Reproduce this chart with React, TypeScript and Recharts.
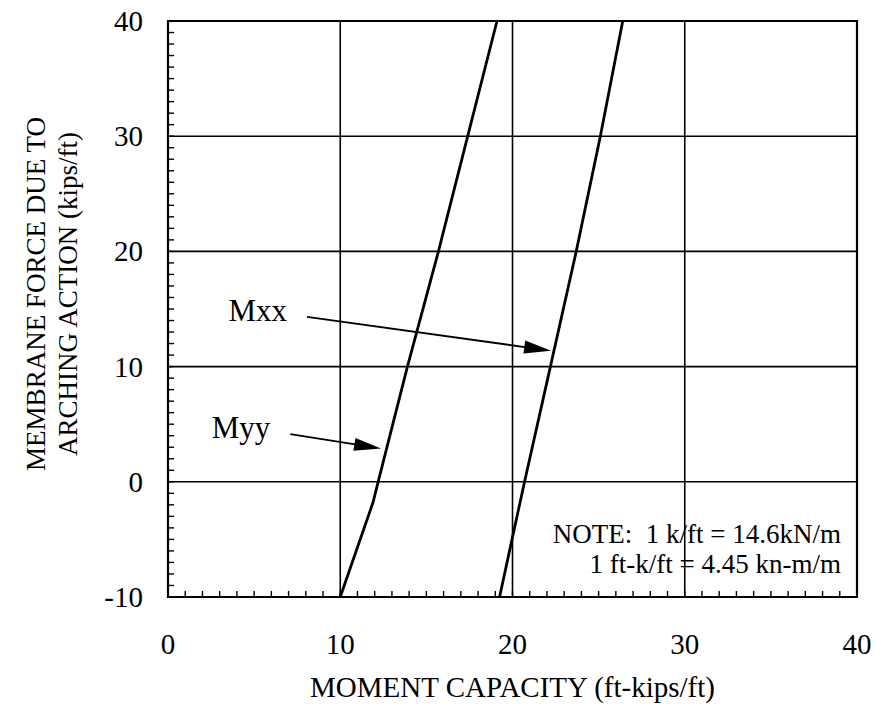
import { LineChart, Line, XAxis, YAxis, ReferenceLine, ReferenceArea } from "recharts";

// curves (moment capacity vs membrane force)
const myyMoment = [10.0, 11.9, 12.2, 13.9, 15.7, 17.4, 19.1];
const myyForce = [-10, -1.8, 0, 10, 20, 30, 40];
const mxxMoment = [19.25, 20.0, 20.7, 22.2, 23.7, 25.1, 26.4];
const mxxForce = [-10, -4.8, 0, 10, 20, 30, 40];

const xMajor = [0, 10, 20, 30, 40];
const yMajor = [-10, 0, 10, 20, 30, 40];
const xGrid = [10, 20, 30];
const yGrid = [0, 10, 20, 30];
const xMinor = Array.from({ length: 41 }, (_, i) => i);
const yMinor = Array.from({ length: 51 }, (_, i) => i - 10);

const arrowLabels = ["Mxx", "Myy"];
const arrowFrom = [
  { x: 8.07, y: 14.32 },
  { x: 7.1, y: 4.13 },
];
const arrowTo = [
  { x: 22.24, y: 11.38 },
  { x: 12.37, y: 2.89 },
];

const noteLines = ["NOTE:  1 k/ft = 14.6kN/m", "1 ft-k/ft = 4.45 kn-m/m"];

const xTitle = "MOMENT CAPACITY (ft-kips/ft)";
const yTitle = ["MEMBRANE FORCE DUE TO", "ARCHING ACTION (kips/ft)"];

const FONT = "'Liberation Serif', 'Times New Roman', serif";

const myyData = myyMoment.map((x, i) => ({ x, y: myyForce[i] }));
const mxxData = mxxMoment.map((x, i) => ({ x, y: mxxForce[i] }));

function XTick(props: any) {
  const { x, y, payload } = props;
  const major = xMajor.includes(payload.value);
  return (
    <g>
      <line x1={x} y1={y} x2={x} y2={y - 6} stroke="#000" strokeWidth={1.4} />
      {major && (
        <text x={x} y={y + 57} textAnchor="middle" fontFamily={FONT} fontSize={29} fill="#000">
          {payload.value}
        </text>
      )}
    </g>
  );
}

function YTick(props: any) {
  const { x, y, payload } = props;
  const major = yMajor.includes(payload.value);
  return (
    <g>
      <line x1={x} y1={y} x2={x + 6} y2={y} stroke="#000" strokeWidth={1.4} />
      {major && (
        <text x={x - 25} y={y + 10} textAnchor="end" fontFamily={FONT} fontSize={29} fill="#000">
          {payload.value}
        </text>
      )}
    </g>
  );
}

function Arrow(props: any) {
  const { x1, y1, x2, y2, text } = props;
  const dx = x2 - x1;
  const dy = y2 - y1;
  const len = Math.sqrt(dx * dx + dy * dy);
  const ux = dx / len;
  const uy = dy / len;
  const headLen = 27;
  const headHalf = 6.5;
  const bx = x2 - ux * headLen;
  const by = y2 - uy * headLen;
  const pts = `${x2},${y2} ${bx - uy * headHalf},${by + ux * headHalf} ${bx + uy * headHalf},${by - ux * headHalf}`;
  return (
    <g>
      <line x1={x1} y1={y1} x2={bx + ux * 4} y2={by + uy * 4} stroke="#000" strokeWidth={1.8} />
      <polygon points={pts} fill="#000" />
      <text x={x1 - 20} y={y1 + 4} textAnchor="end" fontFamily={FONT} fontSize={31} fill="#000">
        {text}
      </text>
    </g>
  );
}

export default function App() {
  return (
    <div style={{ position: "absolute", left: 0, top: 0, background: "#fff" }}>
      <LineChart width={875} height={704} margin={{ top: 21, right: 18, bottom: 0, left: 0 }}>
        <XAxis
          type="number"
          dataKey="x"
          domain={[0, 40]}
          ticks={xMinor}
          interval={0}
          tickSize={0}
          tickMargin={0}
          axisLine={false}
          height={107}
          tick={(p: any) => <XTick {...p} />}
          label={{
            content: () => (
              <text x={512.5} y={697} textAnchor="middle" fontFamily={FONT} fontSize={29} fill="#000">
                {xTitle}
              </text>
            ),
          }}
        />
        <YAxis
          type="number"
          domain={[-10, 40]}
          ticks={yMinor}
          interval={0}
          tickSize={0}
          tickMargin={0}
          axisLine={false}
          width={168}
          tick={(p: any) => <YTick {...p} />}
          label={{
            content: () => (
              <g>
                <text x={45} y={294} transform="rotate(-90 45 294)" textAnchor="middle" fontFamily={FONT} fontSize={27} fill="#000">
                  {yTitle[0]}
                </text>
                <text x={77} y={294} transform="rotate(-90 77 294)" textAnchor="middle" fontFamily={FONT} fontSize={27} fill="#000">
                  {yTitle[1]}
                </text>
              </g>
            ),
          }}
        />
        {xGrid.map((v) => (
          <ReferenceLine key={"gx" + v} x={v} stroke="#000" strokeWidth={1.6} />
        ))}
        {yGrid.map((v) => (
          <ReferenceLine key={"gy" + v} y={v} stroke="#000" strokeWidth={1.6} />
        ))}
        <ReferenceArea
          x1={19.9}
          x2={39.6}
          y1={-9.13}
          y2={-2.88}
          fill="#fff"
          fillOpacity={1}
          stroke="none"
          label={{
            content: () => (
              <g fontFamily={FONT} fontSize={27} fill="#000">
                <text x={841} y={543} textAnchor="end" style={{ whiteSpace: "pre" }}>
                  {noteLines[0]}
                </text>
                <text x={841} y={573} textAnchor="end" style={{ whiteSpace: "pre" }}>
                  {noteLines[1]}
                </text>
              </g>
            ),
          }}
        />
        <ReferenceArea x1={0} x2={40} y1={-10} y2={40} fill="none" stroke="#000" strokeWidth={2.2} />
        {arrowLabels.map((t, i) => (
          <ReferenceLine
            key={t}
            segment={[arrowFrom[i], arrowTo[i]]}
            shape={(p: any) => <Arrow {...p} text={t} />}
          />
        ))}
        <Line data={myyData} dataKey="y" type="linear" stroke="#000" strokeWidth={2.8} dot={false} isAnimationActive={false} />
        <Line data={mxxData} dataKey="y" type="linear" stroke="#000" strokeWidth={2.8} dot={false} isAnimationActive={false} />
      </LineChart>
    </div>
  );
}
